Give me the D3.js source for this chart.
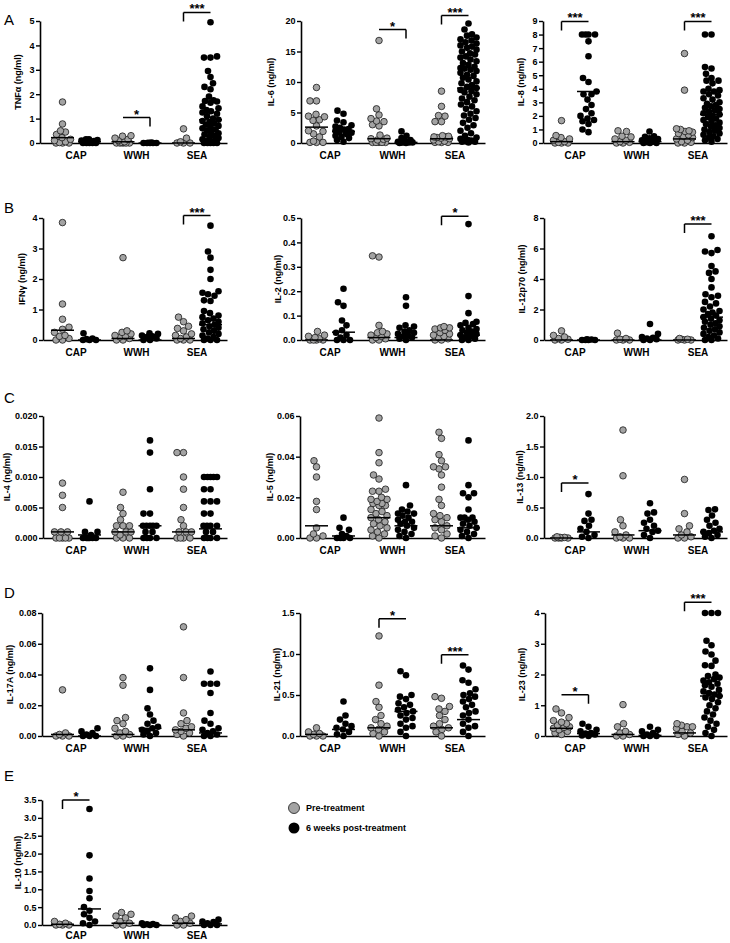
<!DOCTYPE html>
<html><head><meta charset="utf-8">
<script src="https://cdn.jsdelivr.net/npm/d3@7"></script>
<style>
body{margin:0;background:#fff;}
text{font-family:"Liberation Sans",Arial,sans-serif;}
</style></head><body>
<svg id="c" width="730" height="943"></svg>
<script>
const categories = ["CAP","WWH","SEA"];
const seriesNames = ["Pre-treatment","6 weeks post-treatment"];

// ---------- TNFα ----------
const tnfPre = [[1.68,0.78,0.5,0.45,0.35,0.22,0.15,0.1,0.05,0.02,0,0,0],[0.28,0.3,0.2,0.15,0.1,0.05,0.03,0,0,0,0,0],[0.58,0.2,0.05,0,0,0]];
const tnfPost = [[0.15,0.15,0.12,0.1,0.08,0.05,0.03,0.02,0,0,0,0,0],[0.02,0.01,0,0,0,0,0],[4.95,3.55,3.5,3.5,2.95,2.7,2.45,2.3,2.2,1.9,1.75,1.72,1.7,1.65,1.5,1.42,1.35,1.3,1.25,1.2,1.1,1.0,0.95,0.9,0.85,0.8,0.75,0.7,0.65,0.6,0.55,0.5,0.45,0.4,0.35,0.3,0.25,0.2,0.15,0.1,0.08,0.05,0.03,0,0,0,0,0]];
const tnfMed = [[0.22,0.05],[0.05,0],[0,0.95]];
const tnfTicks = ["0","1","2","3","4","5"];
const tnfSig = [{g:1,y:1.04,t:"*",side:"R"},{g:2,y:5.35,t:"***",side:"L"}];

// ---------- IL-6 ----------
const il6Pre = [[9.1,6.9,6.9,4.7,4.4,4.3,3.8,3.7,2.8,2.0,1.9,1.5,1.0,0.3,0.1,0.1,0.1],[16.8,5.6,4.6,4.0,3.6,3.5,3.0,2.8,1.3,0.8,0.7,0.6,0.5,0.1,0.1,0.1,0.1,0.1],[8.5,6.0,4.5,4.4,3.5,3.5,1.2,1.1,1.0,1.0,0.9,0.8,0.7,0.5,0.3,0.2,0.1,0.1,0.1]];
const il6Post = [[5.3,4.8,3.7,3.4,2.9,2.7,2.5,2.3,2.2,2.0,1.8,1.7,1.5,1.2,1.0,0.8,0.5,0.2],[1.9,1.2,0.8,0.5,0.3,0.2,0.1,0.1,0.1,0.1,0,0],[19.6,18.6,17.8,17.6,17.3,17.0,16.8,16.5,16.3,16.0,15.8,15.6,15.3,15.0,14.7,14.5,14.2,14.0,13.7,13.4,13.1,12.8,12.5,12.3,12.2,12.0,11.8,11.5,11.2,11.0,10.7,10.4,10.1,9.8,9.5,9.2,9.0,8.7,8.5,8.3,8.0,7.6,7.3,7.0,6.7,6.3,6.0,5.6,5.2,4.8,4.5,4.1,3.8,3.3,2.9,2.5,2.0,1.6,1.2,0.9,0.7,0.5,0.4,0.3,0.2,0.2,0.1]];
const il6Med = [[2.6,1.9],[0.7,0.1],[0.7,9.0]];
const il6Ticks = ["0","5","10","15","20"];
const il6Sig = [{g:1,y:18.6,t:"*",side:"R"},{g:2,y:20.9,t:"***",side:"L"}];

// ---------- IL-8 ----------
const il8Pre = [[1.65,0.55,0.4,0.3,0.2,0.1,0.05,0,0,0],[0.9,0.85,0.5,0.45,0.3,0.2,0.1,0.05,0,0],[6.6,3.9,1.05,1.0,0.9,0.85,0.8,0.7,0.6,0.5,0.4,0.3,0.2,0.1,0.05,0,0]];
const il8Post = [[8,8,8,8,7.5,6.4,4.8,4.5,3.8,3.6,3.6,3.2,2.8,2.5,2.2,2.0,1.8,1.7,1.6,1.4,1.0,0.8],[0.85,0.5,0.45,0.35,0.3,0.2,0.1,0.1,0.05,0,0,0],[8,8,5.6,5.5,5.1,4.8,4.6,4.6,4.4,4.0,3.9,3.8,3.8,3.6,3.5,3.3,3.2,3.0,2.9,2.8,2.7,2.6,2.5,2.4,2.3,2.2,2.1,2.0,1.9,1.8,1.7,1.6,1.5,1.4,1.3,1.2,1.1,1.0,0.9,0.8,0.7,0.6,0.5,0.4,0.3,0.2,0.1]];
const il8Med = [[0.1,3.8],[0.1,0.1],[0.3,2.1]];
const il8Ticks = ["0","1","2","3","4","5","6","7","8","9"];
const il8Sig = [{g:0,y:8.97,t:"***",side:"L"},{g:2,y:8.97,t:"***",side:"L"}];

// ---------- IFNγ ----------
const ifnPre = [[3.85,1.18,0.68,0.42,0.35,0.25,0.15,0.12,0.05,0,0],[2.7,0.3,0.25,0.2,0.15,0.12,0.1,0.05,0,0],[0.75,0.6,0.45,0.38,0.3,0.2,0.15,0.1,0.05,0,0,0]];
const ifnPost = [[0.22,0.05,0.03,0,0,0],[0.22,0.2,0.15,0.12,0.1,0.05,0,0],[3.75,2.9,2.7,2.3,2.0,1.6,1.55,1.5,1.45,1.3,1.28,0.95,0.88,0.8,0.75,0.7,0.65,0.6,0.55,0.5,0.45,0.4,0.35,0.3,0.25,0.2,0.15,0.1,0.05,0,0,0]];
const ifnMed = [[0.32,0],[0.05,0],[0.05,0.5]];
const ifnTicks = ["0","1","2","3","4"];
const ifnSig = [{g:2,y:4.08,t:"***",side:"L"}];

// ---------- IL-2 ----------
const il2Pre = [[0.035,0.02,0.015,0.01,0.005,0,0,0,0],[0.34,0.345,0.06,0.035,0.03,0.025,0.02,0.015,0.01,0.005,0,0],[0.055,0.05,0.05,0.045,0.04,0.03,0.025,0.02,0.015,0.01,0.005,0,0]];
const il2Post = [[0.21,0.155,0.14,0.08,0.06,0.04,0.03,0.02,0.01,0,0,0],[0.175,0.14,0.06,0.055,0.05,0.04,0.035,0.03,0.025,0.02,0.015,0.01,0.005,0],[0.475,0.18,0.11,0.075,0.07,0.065,0.06,0.05,0.045,0.04,0.035,0.03,0.025,0.02,0.015,0.01,0.005,0,0]];
const il2Med = [[0,0.032],[0.01,0.01],[0,0.02]];
const il2Ticks = ["0.0","0.1","0.2","0.3","0.4","0.5"];
const il2Sig = [{g:2,y:0.507,t:"*",side:"L"}];

// ---------- IL-12p70 ----------
const il12Pre = [[0.6,0.3,0.2,0.1,0.05,0,0],[0.45,0.1,0.05,0,0,0],[0.1,0.05,0.05,0,0,0]];
const il12Post = [[0.05,0.03,0,0,0,0],[1.05,0.4,0.2,0.15,0.1,0.05,0,0],[6.8,5.9,5.8,5.7,4.85,4.5,4.4,4.0,3.45,3.0,2.9,2.8,2.5,2.4,2.2,2.0,1.9,1.8,1.7,1.6,1.5,1.4,1.3,1.2,1.1,1.0,0.9,0.8,0.7,0.6,0.5,0.4,0.3,0.2,0.1,0,0]];
const il12Med = [[0,0],[0,0],[0,1.5]];
const il12Ticks = ["0","2","4","6","8"];
const il12Sig = [{g:2,y:7.6,t:"***",side:"L"}];

// ---------- IL-4 ----------
const il4Pre = [[0.009,0.007,0.005,0.001,0.001,0.001,0,0,0,0,0],[0.0075,0.005,0.004,0.003,0.002,0.002,0.002,0.001,0.001,0.001,0.0005,0,0,0],[0.014,0.014,0.010,0.008,0.005,0.003,0.002,0.001,0.001,0.001,0,0,0,0]];
const il4Post = [[0.006,0.001,0.001,0.0005,0,0,0,0,0,0],[0.016,0.014,0.008,0.004,0.004,0.002,0.002,0.002,0.002,0.002,0.001,0.001,0,0,0,0],[0.010,0.010,0.010,0.010,0.010,0.008,0.008,0.006,0.006,0.006,0.004,0.004,0.002,0.002,0.002,0.002,0.001,0.001,0,0,0,0]];
const il4Med = [[0.001,0.0005],[0.001,0.002],[0.001,0.0015]];
const il4Ticks = ["0.000","0.005","0.010","0.015","0.020"];
const il4Sig = [];

// ---------- IL-5 ----------
const il5Pre = [[0.038,0.035,0.030,0.018,0.014,0.005,0.002,0.001,0,0],[0.059,0.042,0.037,0.031,0.029,0.024,0.023,0.023,0.020,0.019,0.019,0.018,0.017,0.017,0.016,0.016,0.014,0.013,0.012,0.011,0.010,0.009,0.008,0.007,0.006,0.005,0.004,0.003,0.002,0.001,0],[0.052,0.049,0.041,0.038,0.035,0.035,0.034,0.031,0.025,0.019,0.016,0.012,0.011,0.010,0.009,0.008,0.006,0.005,0.004,0.002,0.001,0]];
const il5Post = [[0.010,0.005,0.004,0.002,0.001,0,0,0,0],[0.026,0.016,0.014,0.013,0.012,0.012,0.011,0.010,0.009,0.008,0.008,0.007,0.006,0.005,0.004,0.003,0.002,0.001,0],[0.048,0.026,0.022,0.022,0.020,0.014,0.010,0.010,0.010,0.009,0.008,0.007,0.006,0.005,0.004,0.003,0.002,0.001,0]];
const il5Med = [[0.006,0.001],[0.01,0.006],[0.006,0.005]];
const il5Ticks = ["0.00","0.02","0.04","0.06"];
const il5Sig = [];

// ---------- IL-13 ----------
const il13Pre = [[0.02,0.01,0.01,0,0,0,0],[1.77,1.02,0.3,0.2,0.1,0.05,0.02,0,0,0],[0.96,0.4,0.2,0.15,0.1,0.05,0.02,0,0]];
const il13Post = [[0.72,0.4,0.3,0.28,0.2,0.15,0.1,0.05,0.02,0],[0.57,0.42,0.4,0.3,0.25,0.2,0.15,0.12,0.1,0.05,0],[0.47,0.46,0.37,0.3,0.25,0.2,0.15,0.12,0.1,0.08,0.05,0.02,0]];
const il13Med = [[0,0.1],[0.05,0.12],[0.05,0.1]];
const il13Ticks = ["0.0","0.5","1.0","1.5","2.0"];
const il13Sig = [{g:0,y:0.9,t:"*",side:"L"}];

// ---------- IL-17A ----------
const il17Pre = [[0.030,0.002,0.001,0,0,0],[0.038,0.033,0.012,0.010,0.008,0.005,0.003,0.002,0.001,0,0],[0.071,0.038,0.015,0.010,0.008,0.006,0.005,0.004,0.003,0.002,0.001,0]];
const il17Post = [[0.005,0.003,0.002,0.001,0,0,0],[0.044,0.030,0.018,0.014,0.010,0.008,0.006,0.005,0.004,0.003,0.002,0.001,0],[0.042,0.034,0.034,0.034,0.028,0.015,0.010,0.008,0.005,0.004,0.003,0.002,0.001,0,0]];
const il17Med = [[0.001,0],[0.001,0.005],[0.004,0.002]];
const il17Ticks = ["0.00","0.02","0.04","0.06","0.08"];
const il17Sig = [];

// ---------- IL-21 ----------
const il21Pre = [[0.1,0.05,0.03,0.02,0,0,0],[1.22,0.62,0.42,0.35,0.25,0.2,0.15,0.12,0.1,0.08,0.05,0.03,0],[0.48,0.46,0.36,0.33,0.3,0.25,0.2,0.15,0.12,0.1,0.08,0.05,0]];
const il21Post = [[0.42,0.25,0.2,0.15,0.12,0.1,0.08,0.05,0.02,0],[0.79,0.74,0.5,0.48,0.45,0.4,0.38,0.35,0.32,0.3,0.28,0.25,0.22,0.2,0.15,0.12,0.1,0.05,0],[0.86,0.81,0.68,0.65,0.57,0.52,0.5,0.48,0.45,0.42,0.38,0.35,0.3,0.28,0.25,0.2,0.15,0.12,0.1,0.05,0]];
const il21Med = [[0.02,0.08],[0.1,0.3],[0.1,0.2]];
const il21Ticks = ["0.0","0.5","1.0","1.5"];
const il21Sig = [{g:1,y:1.43,t:"*",side:"L"},{g:2,y:0.99,t:"***",side:"L"}];

// ---------- IL-23 ----------
const il23Pre = [[0.88,0.75,0.6,0.5,0.45,0.4,0.35,0.3,0.28,0.25,0.2,0.15,0.1,0.05],[1.02,0.4,0.3,0.15,0.1,0.05,0,0],[0.4,0.35,0.3,0.3,0.25,0.15,0.1,0.05,0]];
const il23Post = [[0.4,0.3,0.2,0.15,0.1,0.08,0.05,0.02,0],[0.3,0.2,0.15,0.1,0.05,0,0,0],[4.0,4.0,4.0,3.1,2.95,2.75,2.65,2.45,2.3,2.28,2.0,1.95,1.9,1.85,1.8,1.75,1.7,1.65,1.6,1.5,1.45,1.4,1.35,1.3,1.25,1.2,1.1,1.0,0.9,0.8,0.7,0.6,0.5,0.4,0.3,0.2,0.1,0]];
const il23Med = [[0.25,0.08],[0.05,0.02],[0.1,1.3]];
const il23Ticks = ["0","1","2","3","4"];
const il23Sig = [{g:0,y:1.34,t:"*",side:"R"},{g:2,y:4.35,t:"***",side:"L"}];

// ---------- IL-10 ----------
const il10Pre = [[0.1,0.05,0.02,0,0,0],[0.35,0.3,0.25,0.2,0.1,0.05,0,0],[0.25,0.2,0.15,0.1,0.05,0,0]];
const il10Post = [[3.25,1.95,1.3,0.95,0.75,0.5,0.4,0.3,0.2,0.1,0.05,0],[0.05,0.03,0.02,0,0,0],[0.15,0.1,0.08,0.05,0,0,0]];
const il10Med = [[0.02,0.45],[0.05,0],[0.05,0.03]];
const il10Ticks = ["0.0","0.5","1.0","1.5","2.0","2.5","3.0","3.5"];
const il10Sig = [{g:0,y:3.5,t:"*",side:"L"}];

// ---------- layout (positions only) ----------
const rowTop = [21, 218, 416, 613, 800];
const rowBottom = [143, 340, 538, 736, 925];
const catLabelGap = [16, 16, 16, 16, 14];
const rowLetters = ["A","B","C","D","E"];
const letterY = [25, 213, 403, 598, 781];
const colCenters = [[76,136,197],[330,392,455],[575,637,698]];
const colAxisEnd = [227, 485, 727];

const panels = [
  {label:"TNFα (ng/ml)", pre:tnfPre, post:tnfPost, med:tnfMed, ticks:tnfTicks, sig:tnfSig, row:0, col:0, ax:40, lx:18},
  {label:"IL-6 (ng/ml)", pre:il6Pre, post:il6Post, med:il6Med, ticks:il6Ticks, sig:il6Sig, row:0, col:1, ax:301, lx:271},
  {label:"IL-8 (ng/ml)", pre:il8Pre, post:il8Post, med:il8Med, ticks:il8Ticks, sig:il8Sig, row:0, col:2, ax:543, lx:521},
  {label:"IFNγ (ng/ml)", pre:ifnPre, post:ifnPost, med:ifnMed, ticks:ifnTicks, sig:ifnSig, row:1, col:0, ax:43, lx:22},
  {label:"IL-2 (ng/ml)", pre:il2Pre, post:il2Post, med:il2Med, ticks:il2Ticks, sig:il2Sig, row:1, col:1, ax:301, lx:278},
  {label:"IL-12p70 (ng/ml)", pre:il12Pre, post:il12Post, med:il12Med, ticks:il12Ticks, sig:il12Sig, row:1, col:2, ax:544, lx:522},
  {label:"IL-4 (ng/ml)", pre:il4Pre, post:il4Post, med:il4Med, ticks:il4Ticks, sig:il4Sig, row:2, col:0, ax:43, lx:7},
  {label:"IL-5 (ng/ml)", pre:il5Pre, post:il5Post, med:il5Med, ticks:il5Ticks, sig:il5Sig, row:2, col:1, ax:300, lx:270},
  {label:"IL-13 (ng/ml)", pre:il13Pre, post:il13Post, med:il13Med, ticks:il13Ticks, sig:il13Sig, row:2, col:2, ax:544, lx:520},
  {label:"IL-17A (ng/ml)", pre:il17Pre, post:il17Post, med:il17Med, ticks:il17Ticks, sig:il17Sig, row:3, col:0, ax:42, lx:10},
  {label:"IL-21 (ng/ml)", pre:il21Pre, post:il21Post, med:il21Med, ticks:il21Ticks, sig:il21Sig, row:3, col:1, ax:300, lx:277},
  {label:"IL-23 (ng/ml)", pre:il23Pre, post:il23Post, med:il23Med, ticks:il23Ticks, sig:il23Sig, row:3, col:2, ax:545, lx:522},
  {label:"IL-10 (ng/ml)", pre:il10Pre, post:il10Post, med:il10Med, ticks:il10Ticks, sig:il10Sig, row:4, col:0, ax:42, lx:18}
];

const R = 3.3, SUB = 13.5, MEDHALF = 11.5, MAXOFF = 8;
const GRAY = "#a3a3a3";
const svg = d3.select("#c");

// simple beeswarm: returns x offsets
function swarm(vals, y) {
  const pts = vals.map(v => ({v, py: y(v)})).sort((a,b) => b.py - a.py);
  const placed = [];
  const cands = [0];
  for (let o = 0.5; o <= MAXOFF + 1e-9; o += 0.5) { cands.push(-o, o); }
  const minD = 2 * R * 0.98;
  pts.forEach(p => {
    let best = null, bestScore = -Infinity;
    for (const o of cands) {
      let md = Infinity;
      for (const q of placed) {
        const d = Math.hypot(q.ox - o, q.py - p.py);
        if (d < md) md = d;
      }
      if (md >= minD) { best = o; bestScore = Infinity; break; }
      if (md > bestScore) { bestScore = md; best = o; }
    }
    p.ox = best;
    placed.push(p);
  });
  return pts;
}

rowLetters.forEach((L, i) => {
  svg.append("text").attr("x", 4).attr("y", letterY[i]).attr("font-size", 15).text(L);
});

panels.forEach(P => {
  const top = rowTop[P.row], bot = rowBottom[P.row];
  const tickVals = P.ticks.map(Number);
  const y = d3.scaleLinear().domain([0, d3.max(tickVals)]).range([bot, top]);
  const x = d3.scalePoint().domain(categories).range([colCenters[P.col][0], colCenters[P.col][2]]);
  const g = svg.append("g");

  // y axis
  const ya = g.append("g").attr("transform", `translate(${P.ax},0)`)
    .call(d3.axisLeft(y).tickValues(tickVals).tickFormat((d,i) => P.ticks[i]).tickSize(4).tickSizeOuter(0).tickPadding(1.5));
  ya.select(".domain").attr("stroke", "#000").attr("stroke-width", 1.6);
  ya.selectAll(".tick line").attr("stroke", "#000").attr("stroke-width", 1.4);
  ya.selectAll(".tick text").attr("font-size", 9).attr("font-weight", "bold").attr("fill", "#000")
    .attr("font-family", '"Liberation Sans",Arial,sans-serif');

  // x axis
  const xa = g.append("g").attr("transform", `translate(0,${bot})`)
    .call(d3.axisBottom(d3.scaleLinear().domain([0,1]).range([P.ax, colAxisEnd[P.col]])).tickValues([]).tickSizeOuter(0));
  xa.select(".domain").attr("stroke", "#000").attr("stroke-width", 1.6);
  categories.forEach(c => {
    g.append("text").attr("x", x(c)).attr("y", bot + catLabelGap[P.row]).attr("text-anchor", "middle")
      .attr("font-size", 10).attr("font-weight", "bold").text(c);
  });

  // y label
  g.append("text").attr("transform", `translate(${P.lx},${(top + bot) / 2}) rotate(-90)`)
    .attr("text-anchor", "middle").attr("dominant-baseline", "central")
    .attr("font-size", 9).attr("font-weight", "bold").text(P.label);

  // dots
  categories.forEach((c, gi) => {
    [[P.pre[gi], -SUB, 0], [P.post[gi], SUB, 1]].forEach(([vals, off, s]) => {
      const cx = x(c) + off;
      const pts = swarm(vals, y);
      g.append("g").selectAll("circle").data(pts).join("circle")
        .attr("cx", d => cx + d.ox).attr("cy", d => d.py).attr("r", R)
        .attr("fill", s === 0 ? GRAY : "#000")
        .attr("stroke", s === 0 ? "#1a1a1a" : "none").attr("stroke-width", 0.8);
    });
  });
  // medians
  categories.forEach((c, gi) => {
    [-SUB, SUB].forEach((off, s) => {
      const cx = x(c) + off, yy = y(P.med[gi][s]);
      g.append("line").attr("x1", cx - MEDHALF).attr("x2", cx + MEDHALF).attr("y1", yy).attr("y2", yy)
        .attr("stroke", "#000").attr("stroke-width", 1.5);
    });
  });
  // significance brackets
  P.sig.forEach(s => {
    const c = categories[s.g];
    const x1 = x(c) - SUB, x2 = x(c) + SUB, yy = y(s.y);
    const xv = s.side === "L" ? x1 : x2;
    g.append("path").attr("d", `M${xv},${yy + 9}V${yy}M${x1},${yy}H${x2}`)
      .attr("fill", "none").attr("stroke", "#000").attr("stroke-width", 1.5);
    g.append("text").attr("x", (x1 + x2) / 2).attr("y", yy + 1).attr("text-anchor", "middle")
      .attr("font-size", 13).attr("font-weight", "bold").text(s.t);
  });
});

// legend
const legY = [808, 828];
seriesNames.forEach((n, i) => {
  svg.append("circle").attr("cx", 294).attr("cy", legY[i]).attr("r", 5.5)
    .attr("fill", i === 0 ? GRAY : "#000").attr("stroke", i === 0 ? "#1a1a1a" : "none").attr("stroke-width", 0.8);
  svg.append("text").attr("x", 306).attr("y", legY[i] + 3.2).attr("font-size", 9).attr("font-weight", "bold").text(n);
});
</script>
</body></html>
